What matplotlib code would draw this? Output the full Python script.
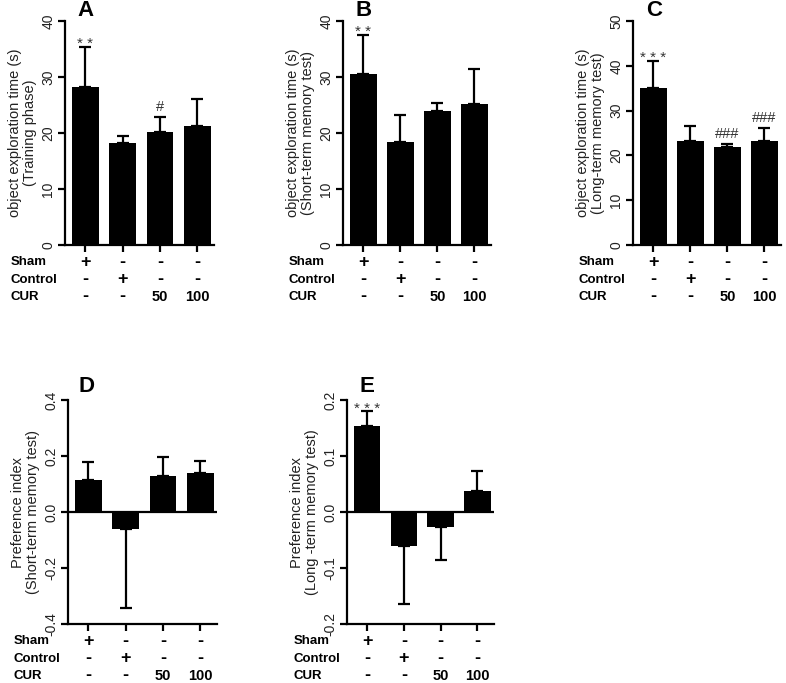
import matplotlib
matplotlib.use("Agg")
import matplotlib.pyplot as plt
import numpy as np

plt.rcParams['font.family'] = ['Liberation Sans', 'DejaVu Sans']

groups = ["Sham", "Control", "CUR 50", "CUR 100"]
row_labels = ["Sham", "Control", "CUR"]
row_sham = ["+", "-", "-", "-"]
row_control = ["-", "+", "-", "-"]
row_cur = ["-", "-", "50", "100"]

a_mean = [28.2, 18.2, 20.2, 21.2]
a_err = [7.2, 1.3, 2.6, 4.9]
b_mean = [30.5, 18.4, 23.9, 25.2]
b_err = [7.0, 4.8, 1.5, 6.3]
c_mean = [35.0, 23.2, 21.8, 23.2]
c_err = [6.1, 3.4, 0.7, 2.9]
d_mean = [0.114, -0.060, 0.130, 0.139]
d_err = [0.066, 0.283, 0.066, 0.044]
e_mean = [0.154, -0.061, -0.026, 0.0375]
e_err = [0.026, 0.103, 0.060, 0.035]

a_sig = ["**", "", "#", ""]
b_sig = ["**", "", "", ""]
c_sig = ["***", "", "###", "###"]
d_sig = ["", "", "", ""]
e_sig = ["***", "", "", ""]

panels = [
    dict(letter="A", mean=a_mean, err=a_err, sig=a_sig, ylim=(0, 40), ticks=[0, 10, 20, 30, 40],
         ticklabels=["0", "10", "20", "30", "40"],
         ylabel="object exploration time (s)\n(Training phase)",
         rect=[65, 21, 149, 224], letter_xy=(85, 10)),
    dict(letter="B", mean=b_mean, err=b_err, sig=b_sig, ylim=(0, 40), ticks=[0, 10, 20, 30, 40],
         ticklabels=["0", "10", "20", "30", "40"],
         ylabel="object exploration time (s)\n(Short-term memory test)",
         rect=[343, 21, 148, 224], letter_xy=(364, 10)),
    dict(letter="C", mean=c_mean, err=c_err, sig=c_sig, ylim=(0, 50), ticks=[0, 10, 20, 30, 40, 50],
         ticklabels=["0", "10", "20", "30", "40", "50"],
         ylabel="object exploration time (s)\n(Long-term memory test)",
         rect=[633, 21, 148, 224], letter_xy=(654, 10)),
    dict(letter="D", mean=d_mean, err=d_err, sig=d_sig, ylim=(-0.4, 0.4), ticks=[-0.4, -0.2, 0.0, 0.2, 0.4],
         ticklabels=["-0.4", "-0.2", "0.0", "0.2", "0.4"],
         ylabel="Preference index\n(Short-term memory test)",
         rect=[68, 400, 149, 224], letter_xy=(87, 387)),
    dict(letter="E", mean=e_mean, err=e_err, sig=e_sig, ylim=(-0.2, 0.2), ticks=[-0.2, -0.1, 0.0, 0.1, 0.2],
         ticklabels=["-0.2", "-0.1", "0.0", "0.1", "0.2"],
         ylabel="Preference index\n(Long -term memory test)",
         rect=[347, 400, 147, 224], letter_xy=(367, 386)),
]

W, H = 786, 683
fig = plt.figure(figsize=(W / 100, H / 100), dpi=100)

x = np.arange(len(groups))
for p in panels:
    l, t, w, h = p["rect"]
    ax = fig.add_axes([l / W, 1 - (t + h) / H, w / W, h / H])
    mean = np.array(p["mean"])
    err = np.array(p["err"])
    lower = np.where(mean < 0, err, 0)
    upper = np.where(mean >= 0, err, 0)
    ax.bar(x, mean, width=0.72, color="black", zorder=2)
    ax.errorbar(x, mean, yerr=[lower, upper], fmt="none", ecolor="black",
                elinewidth=1.6, capsize=4, capthick=1.6, zorder=1)
    ax.set_xlim(-0.55, 3.45)
    ax.set_ylim(*p["ylim"])
    ax.set_yticks(p["ticks"])
    ax.set_yticklabels(p["ticklabels"], rotation=90, va="center", fontsize=10, color="#222222")
    ax.set_xticks(x)
    ax.set_xticklabels([])
    for s in ["top", "right"]:
        ax.spines[s].set_visible(False)
    for s in ["left", "bottom"]:
        ax.spines[s].set_linewidth(1.6)
    ax.tick_params(width=1.6, length=5, direction="out", pad=2)
    if p["ylim"][0] < 0:
        ax.axhline(0, color="black", lw=1.6, zorder=3)
    ax.set_ylabel(p["ylabel"], fontsize=10.5, labelpad=3, linespacing=1.1, color="#222222")
    for xi, m, e, s in zip(x, mean, err, p["sig"]):
        if s:
            if s[0] == "*":
                ax.annotate(" ".join(s), (xi, m + e), xytext=(0, -1), textcoords="offset points",
                            ha="center", va="baseline", fontsize=11, color="#333333")
            else:
                ax.annotate(s, (xi, m + e), xytext=(0, 4.5), textcoords="offset points",
                            ha="center", va="baseline", fontsize=10.5, color="#333333")
    # table rows
    trans = ax.get_xaxis_transform()
    rows = [row_sham, row_control, row_cur]
    ys = [-0.078, -0.155, -0.232]
    for lab, row, yy in zip(row_labels, rows, ys):
        ax.text(-0.365, yy, lab, transform=ax.transAxes, ha="left", va="center",
                fontsize=9.5, fontweight="bold")
        for xi, v in zip(x, row):
            fs = 13 if v in ("+", "-") else 10.5
            ax.text(xi, yy, v, transform=trans, ha="center", va="center",
                    fontsize=fs, fontweight="bold")
    lx, ly = p["letter_xy"]
    fig.text(lx / W, 1 - ly / H, p["letter"], fontsize=16, fontweight="bold",
             ha="center", va="center")

fig.savefig("out.png", dpi=100)
